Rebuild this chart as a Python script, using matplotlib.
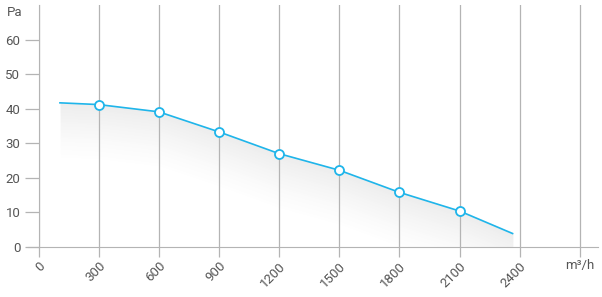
import numpy as np
import matplotlib.pyplot as plt

plt.rcParams['font.family'] = ['Roboto', 'DejaVu Sans']

# airflow (m3/h) vs pressure (Pa)
flow = [107, 300, 600, 900, 1200, 1500, 1800, 2100, 2364]
pressure = [41.7, 41.2, 39.1, 33.3, 27.0, 22.2, 15.8, 10.4, 3.9]
marked = [300, 600, 900, 1200, 1500, 1800, 2100]

xticks = [0, 300, 600, 900, 1200, 1500, 1800, 2100, 2400, 2700]
xlabels = ['0', '300', '600', '900', '1200', '1500', '1800', '2100', '2400', 'm³/h']
yticks = [0, 10, 20, 30, 40, 50, 60]

line_col = '#1fb5ea'
grid_col = '#b4b4b4'
text_col = '#555555'
fs = 9.5

fig = plt.figure(figsize=(6.02, 2.97), dpi=100)
ax = fig.add_axes([38.5 / 602, (297 - 247) / 297, (598 - 38.5) / 602, (247 - 5) / 297])
ax.set_xlim(0, 2790)
ax.set_ylim(0, 70)

# gradient fill under the curve
gx = np.linspace(0, 2790, 700)
gy = np.linspace(0, 70, 300)
X, Y = np.meshgrid(gx, gy)
yl = np.interp(X, flow, pressure)
d = yl - Y
a = np.clip(1 - d / 17.0, 0, 1) ** 1.3 * 0.13
a[(d < 0) | (X < flow[0]) | (X > flow[-1])] = 0
img = np.zeros(X.shape + (4,))
img[..., 0] = 0.45
img[..., 1] = 0.45
img[..., 2] = 0.45
img[..., 3] = a
ax.imshow(img, extent=[0, 2790, 0, 70], origin='lower', aspect='auto', zorder=0,
          interpolation='bilinear')

ax.set_xticks(xticks)
ax.set_xticklabels(xlabels)
ax.set_yticks(yticks)
ax.grid(axis='x', color=grid_col, linewidth=0.9, zorder=1)
ax.tick_params(axis='both', colors=grid_col, labelcolor=text_col, labelsize=fs, width=0.9)
ax.tick_params(axis='x', length=7, pad=2)
ax.tick_params(axis='y', length=10, pad=3)
for s in ['top', 'right']:
    ax.spines[s].set_visible(False)
ax.spines['bottom'].set_color(grid_col)
ax.spines['left'].set_color(grid_col)
ax.spines['bottom'].set_bounds(-50, 2790)

for lbl in ax.get_xticklabels()[:-1]:
    lbl.set_rotation(45)
    lbl.set_ha('right')
    lbl.set_va('top')
    lbl.set_rotation_mode('anchor')
last = ax.get_xticklabels()[-1]
last.set_rotation(0)

fig.text(23 / 602, 1 - 13 / 297, 'Pa', ha='right', va='center', fontsize=fs, color=text_col)

ax.plot(flow, pressure, color=line_col, linewidth=1.2, zorder=3)
mp = np.interp(marked, flow, pressure)
ax.plot(marked, mp, 'o', ms=6.5, mfc='white', mec=line_col, mew=1.3, zorder=4)

fig.savefig('out.png', dpi=100)
